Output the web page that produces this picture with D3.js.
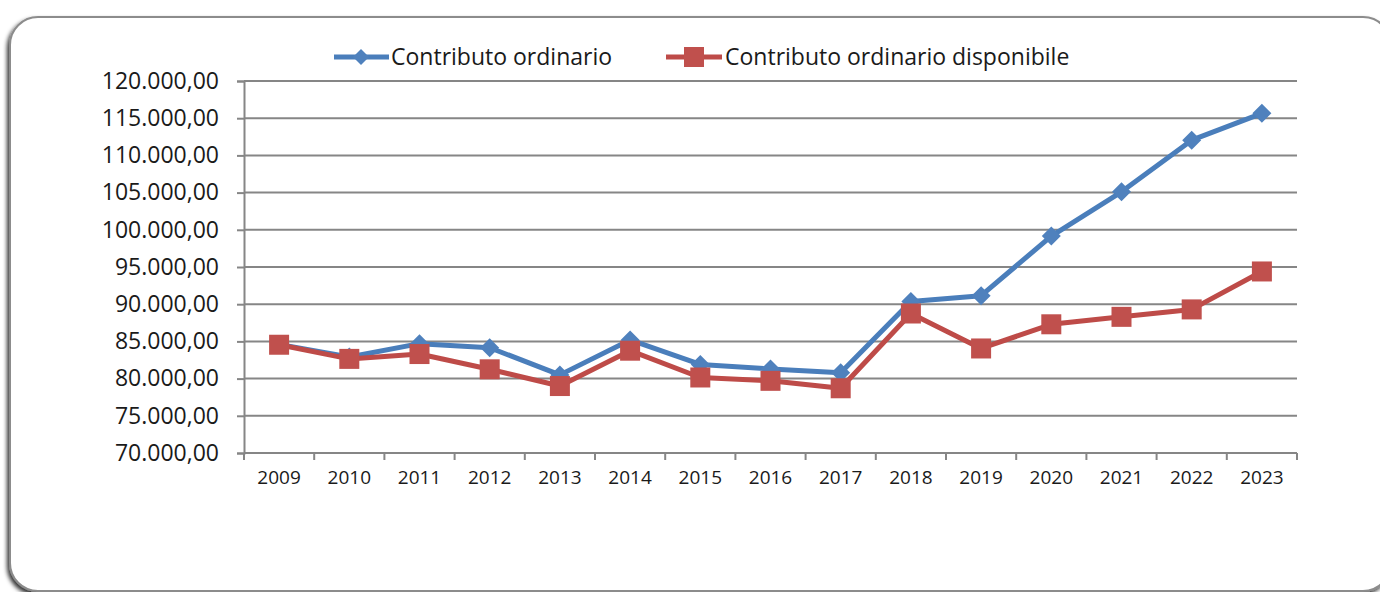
<!DOCTYPE html>
<html>
<head>
<meta charset="utf-8">
<script src="https://cdn.jsdelivr.net/npm/d3@7.9.0/dist/d3.min.js"></script>
<style>
  body { margin: 0; background: #fff; }
  svg { display: block; font-family: "Open Sans", sans-serif; }
</style>
</head>
<body>
<svg width="1380" height="592"></svg>
<script>
const years = ['2009','2010','2011','2012','2013','2014','2015','2016','2017','2018','2019','2020','2021','2022','2023'];
const contributo = [84600, 82900, 84700, 84150, 80500, 85200, 81900, 81300, 80800, 90350, 91150, 99150, 105100, 112050, 115650];
const disponibile = [84550, 82650, 83300, 81250, 79000, 83750, 80150, 79700, 78700, 88750, 84050, 87300, 88300, 89300, 94400];
const yTicks = [70000, 75000, 80000, 85000, 90000, 95000, 100000, 105000, 110000, 115000, 120000];
const seriesNames = ['Contributo ordinario', 'Contributo ordinario disponibile'];

const blue = '#4a7ebb', red = '#be4b48', gridCol = '#868686';

const itLocale = d3.formatLocale({decimal: ',', thousands: '.', grouping: [3], currency: ['€', '']});
const fmt = itLocale.format(',.2f');

const svg = d3.select('svg');

// frame with shadow
const defs = svg.append('defs');
const filt = defs.append('filter').attr('id', 'shadow')
  .attr('x', '-5%').attr('y', '-5%').attr('width', '110%').attr('height', '115%');
filt.append('feDropShadow').attr('dx', -2).attr('dy', 3).attr('stdDeviation', 2)
  .attr('flood-color', '#000').attr('flood-opacity', 0.8);

svg.append('rect')
  .attr('x', 10).attr('y', 17).attr('width', 1381).attr('height', 574)
  .attr('rx', 28).attr('ry', 28)
  .attr('fill', '#fff').attr('stroke', '#8c8c8c').attr('stroke-width', 2)
  .attr('filter', 'url(#shadow)');

const plotLeft = 244, plotRight = 1297, plotTop = 81, plotBottom = 453;

const x = d3.scaleBand().domain(years).range([plotLeft, plotRight]).padding(0);
const y = d3.scaleLinear().domain([70000, 120000]).range([plotBottom, plotTop]);
const cx = d => x(d) + x.bandwidth() / 2;

// gridlines + y axis
const yAxis = svg.append('g')
  .attr('transform', `translate(${plotLeft},0)`)
  .call(d3.axisLeft(y).tickValues(yTicks).tickFormat(fmt).tickSize(7).tickPadding(18));
yAxis.select('.domain').attr('stroke', gridCol).attr('stroke-width', 2);
yAxis.selectAll('.tick line').attr('stroke', gridCol).attr('stroke-width', 2);
yAxis.selectAll('.tick text').attr('font-size', 23).attr('fill', '#1a1a1a')
  .attr('font-family', '"Open Sans", sans-serif');

svg.append('g').selectAll('line').data(yTicks).join('line')
  .attr('x1', plotLeft).attr('x2', plotRight)
  .attr('y1', d => y(d)).attr('y2', d => y(d))
  .attr('stroke', gridCol).attr('stroke-width', 2);

// x axis: labels at centres, ticks at category boundaries
const xAxis = svg.append('g')
  .attr('transform', `translate(0,${plotBottom})`)
  .call(d3.axisBottom(x).tickSize(0).tickPadding(18));
xAxis.select('.domain').remove();
xAxis.selectAll('.tick text').attr('font-size', 19).attr('fill', '#1a1a1a')
  .attr('font-family', '"Open Sans", sans-serif');

const bounds = years.map(d => x(d)).concat([x(years[years.length - 1]) + x.bandwidth()]);
svg.append('g').selectAll('line').data(bounds).join('line')
  .attr('x1', d => d).attr('x2', d => d)
  .attr('y1', plotBottom).attr('y2', plotBottom + 7)
  .attr('stroke', gridCol).attr('stroke-width', 2);

// lines
const line = d3.line().x((d, i) => cx(years[i])).y(d => y(d));

svg.append('path').datum(contributo)
  .attr('d', line).attr('fill', 'none')
  .attr('stroke', blue).attr('stroke-width', 5).attr('stroke-linejoin', 'round');

const diamond = s => `M0,${-s}L${s},0L0,${s}L${-s},0Z`;
svg.append('g').selectAll('path').data(contributo).join('path')
  .attr('transform', (d, i) => `translate(${cx(years[i])},${y(d)})`)
  .attr('d', diamond(9.5)).attr('fill', '#4f81bd');

svg.append('path').datum(disponibile)
  .attr('d', line).attr('fill', 'none')
  .attr('stroke', red).attr('stroke-width', 5).attr('stroke-linejoin', 'round');

svg.append('g').selectAll('rect').data(disponibile).join('rect')
  .attr('x', (d, i) => cx(years[i]) - 10).attr('y', d => y(d) - 10)
  .attr('width', 20).attr('height', 20).attr('fill', '#c0504d');

// legend
const legend = svg.append('g');
const lg1 = legend.append('g').attr('transform', 'translate(334,57)');
lg1.append('line').attr('x1', 0).attr('x2', 55).attr('stroke', blue).attr('stroke-width', 5);
lg1.append('path').attr('transform', 'translate(27,0)').attr('d', diamond(8)).attr('fill', '#4f81bd');
lg1.append('text').attr('x', 57).attr('y', 8).attr('font-size', 23).attr('fill', '#1a1a1a').text(seriesNames[0]);

const lg2 = legend.append('g').attr('transform', 'translate(666,57)');
lg2.append('line').attr('x1', 0).attr('x2', 56).attr('stroke', red).attr('stroke-width', 5);
lg2.append('rect').attr('x', 18).attr('y', -10).attr('width', 20).attr('height', 20).attr('fill', '#c0504d');
lg2.append('text').attr('x', 59).attr('y', 8).attr('font-size', 23).attr('fill', '#1a1a1a').text(seriesNames[1]);
</script>
</body>
</html>
